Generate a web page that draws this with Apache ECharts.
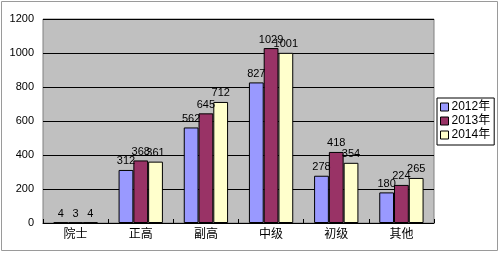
<!DOCTYPE html>
<html><head><meta charset="utf-8">
<script src="https://cdn.jsdelivr.net/npm/echarts@6/dist/echarts.min.js"></script>
<style>html,body{margin:0;padding:0;background:#fff}#c{width:500px;height:253px}</style>
</head><body><div id="c"></div>
<script>
var categories = ['院士','正高','副高','中级','初级','其他'];
var seriesNames = ['2012年','2013年','2014年'];
var v2012 = [4, 312, 562, 827, 278, 180];
var v2013 = [3, 368, 645, 1029, 418, 224];
var v2014 = [4, 361, 712, 1001, 354, 265];
var yTicks = [0, 200, 400, 600, 800, 1000, 1200];
var colors = ['#9999ff', '#993366', '#ffffcc'];
var fontFam = '"Liberation Sans","Noto Sans CJK SC",sans-serif';
var chart = echarts.init(document.getElementById('c'), null, {renderer:'canvas'});
function mk(name, data, i){
  return {
    name: name, type: 'bar', data: data, barGap: '0%', barCategoryGap: '32%',
    itemStyle: {color: colors[i], borderColor: '#000', borderWidth: 1},
    label: {show: true, position: 'top', distance: 3, color: '#000', fontSize: 11, fontFamily: fontFam},
    emphasis: {disabled: true}, animation: false
  };
}
chart.setOption({
  animation: false,
  graphic: [{type: 'rect', shape: {x: 1.5, y: 1.5, width: 496, height: 249}, style: {fill: 'none', stroke: '#9a9a9a', lineWidth: 1}, z: -1}],
  grid: {left: 43, right: 66, top: 19, bottom: 30, show: true, backgroundColor: '#c0c0c0', borderColor: '#808080', borderWidth: 1},
  legend: {
    orient: 'vertical', left: 437, top: 98, data: seriesNames,
    backgroundColor: '#fff', borderColor: '#000', borderWidth: 1,
    padding: [3, 4, 4, 3], itemGap: 2, itemWidth: 8, itemHeight: 8, icon: 'rect',
    itemStyle: {borderColor: '#000', borderWidth: 1},
    textStyle: {fontSize: 12, color: '#000', fontFamily: fontFam, padding: [0,0,0,-2]}
  },
  xAxis: {
    type: 'category', data: categories,
    axisLine: {show: true, lineStyle: {color: '#000'}},
    axisTick: {show: true, inside: true, length: 4, lineStyle: {color: '#000'}},
    axisLabel: {color: '#000', fontSize: 12, fontFamily: fontFam, margin: 6}
  },
  yAxis: {
    type: 'value', min: yTicks[0], max: yTicks[yTicks.length-1], interval: 200,
    axisLine: {show: false}, axisTick: {show: false},
    axisLabel: {color: '#000', fontSize: 11, fontFamily: fontFam, margin: 9, formatter: function(v){ return String(v); }},
    splitLine: {show: true, lineStyle: {color: '#000', width: 1}}
  },
  series: [mk(seriesNames[0], v2012, 0), mk(seriesNames[1], v2013, 1), mk(seriesNames[2], v2014, 2)]
});
</script></body></html>
